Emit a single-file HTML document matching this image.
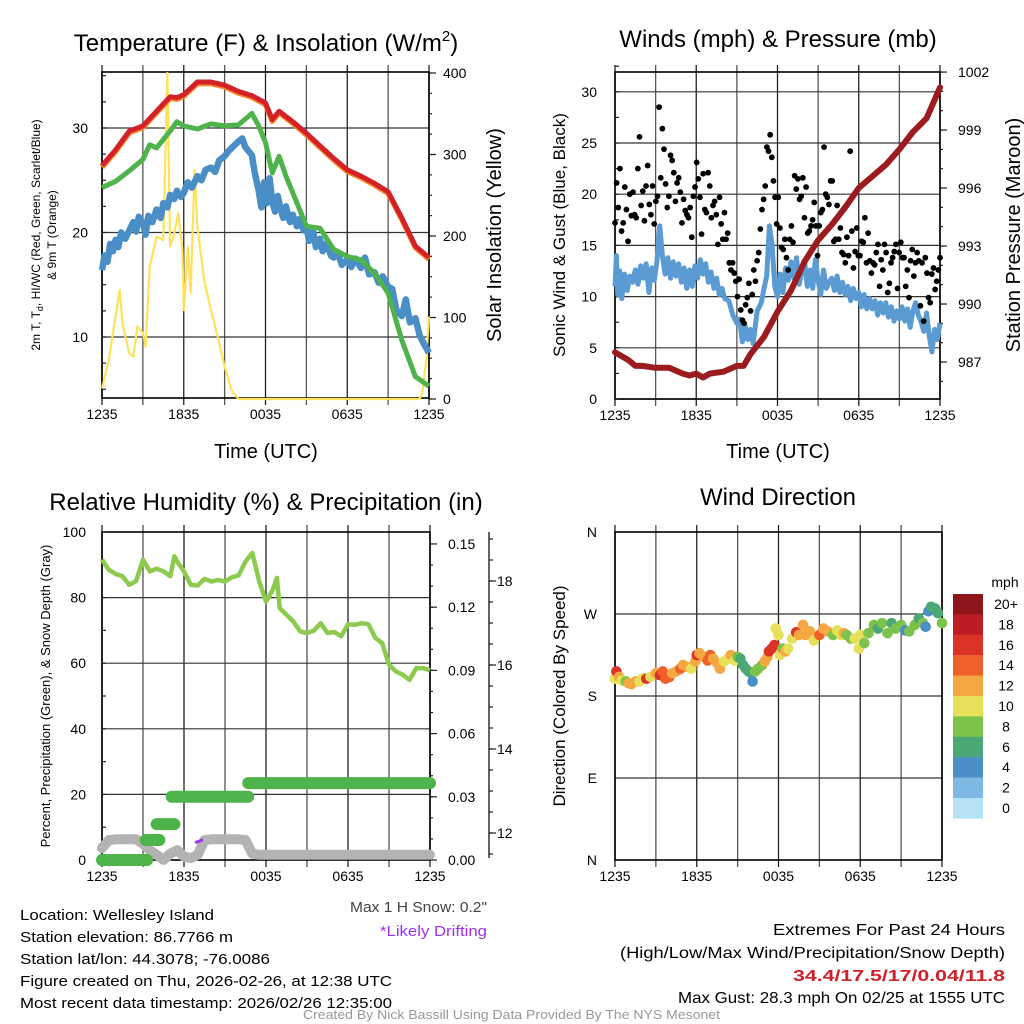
<!DOCTYPE html>
<html><head><meta charset="utf-8"><style>
html,body{margin:0;padding:0;background:#fff;width:1024px;height:1024px;overflow:hidden}
svg{display:block;font-family:"Liberation Sans",sans-serif}
</style></head><body>
<svg id="c" width="1024" height="1024" viewBox="0 0 1024 1024" xmlns="http://www.w3.org/2000/svg">
<rect width="1024" height="1024" fill="#fff"/>
<g id="g1"></g>
<g id="g2"></g>
<g id="g3"></g>
<g id="g4"></g>

<text x="266" y="51" font-size="24" text-anchor="middle">Temperature (F) &amp; Insolation (W/m<tspan font-size="15" dy="-10">2</tspan><tspan dy="10">)</tspan></text>
<text x="778" y="47" font-size="24" text-anchor="middle">Winds (mph) &amp; Pressure (mb)</text>
<text x="266" y="510" font-size="24" text-anchor="middle">Relative Humidity (%) &amp; Precipitation (in)</text>
<text x="778" y="505" font-size="24" text-anchor="middle">Wind Direction</text>

<text x="266" y="458" font-size="20" text-anchor="middle">Time (UTC)</text>
<text x="778" y="458" font-size="20" text-anchor="middle">Time (UTC)</text>

<g font-size="12" text-anchor="middle">
<text transform="translate(40,235) rotate(-90)">2m T, T<tspan font-size="9" dy="3">d</tspan><tspan dy="-3">, HI/WC (Red, Green, Scarlet/Blue)</tspan></text>
<text transform="translate(56,235) rotate(-90)">&amp; 9m T (Orange)</text>
</g>
<text transform="translate(501,235) rotate(-90)" font-size="20" text-anchor="middle">Solar Insolation (Yellow)</text>
<text transform="translate(565,235) rotate(-90)" font-size="17" text-anchor="middle">Sonic Wind &amp; Gust (Blue, Black)</text>
<text transform="translate(1020,235) rotate(-90)" font-size="20" text-anchor="middle">Station Pressure (Maroon)</text>
<text transform="translate(50,696) rotate(-90)" font-size="13" text-anchor="middle">Percent, Precipitation (Green), &amp; Snow Depth (Gray)</text>
<text transform="translate(565,696) rotate(-90)" font-size="17" text-anchor="middle">Direction (Colored By Speed)</text>

<text x="487" y="912" font-size="15" fill="#444" text-anchor="end" textLength="137" lengthAdjust="spacingAndGlyphs">Max 1 H Snow: 0.2"</text>
<text x="487" y="936" font-size="15" fill="#a030ee" text-anchor="end" textLength="107" lengthAdjust="spacingAndGlyphs">*Likely Drifting</text>

<g font-size="15">
<text x="20" y="920" textLength="194" lengthAdjust="spacingAndGlyphs">Location: Wellesley Island</text>
<text x="20" y="942" textLength="213" lengthAdjust="spacingAndGlyphs">Station elevation: 86.7766 m</text>
<text x="20" y="964" textLength="250" lengthAdjust="spacingAndGlyphs">Station lat/lon: 44.3078; -76.0086</text>
<text x="20" y="986" textLength="372" lengthAdjust="spacingAndGlyphs">Figure created on Thu, 2026-02-26, at 12:38 UTC</text>
<text x="20" y="1008" textLength="372" lengthAdjust="spacingAndGlyphs">Most recent data timestamp: 2026/02/26 12:35:00</text>
</g>
<g font-size="16">
<text x="773" y="935" textLength="232" lengthAdjust="spacingAndGlyphs">Extremes For Past 24 Hours</text>
<text x="620" y="958" textLength="385" lengthAdjust="spacingAndGlyphs">(High/Low/Max Wind/Precipitation/Snow Depth)</text>
<text x="793" y="981" fill="#d0202a" font-weight="bold" textLength="212" lengthAdjust="spacingAndGlyphs">34.4/17.5/17/0.04/11.8</text>
<text x="678" y="1003" textLength="327" lengthAdjust="spacingAndGlyphs">Max Gust: 28.3 mph On 02/25 at 1555 UTC</text>
</g>
<text x="303" y="1019" font-size="13" fill="#999" textLength="417" lengthAdjust="spacingAndGlyphs">Created By Nick Bassill Using Data Provided By The NYS Mesonet</text>
</svg>
<script>
// ---------------- DATA ----------------
const xTickLabels = ["1235","1835","0035","0635","1235"];
const tHours = [0,1,2,3,4,5,5.5,6,7,8,9,10,11,12,12.5,13,14,15,16,17,18,19,20,21,22,23,24];
const tRed = [26.4,27.9,29.7,30.2,31.6,33.0,32.9,33.2,34.4,34.4,34.1,33.5,33.1,32.4,30.8,31.6,30.6,29.5,28.3,27.1,26.0,25.4,24.7,23.9,21.4,18.7,17.6];
const gHours = [0,1,2,3,3.5,4,5,5.5,6,7,8,9,10,11,11.5,12,12.5,13,13.5,14,15,16,17,18,19,20,21,22,23,24];
const tGreen = [24.3,24.9,25.9,27.0,28.4,28.1,29.7,30.6,30.2,29.9,30.4,30.2,30.3,31.4,30.2,28.6,25.7,27.3,25.4,23.8,20.6,20.4,18.4,17.7,17.4,16.1,14.2,9.7,6.2,5.3];
const bHours = [0,0.2,0.4,0.6,0.8,1,1.2,1.4,1.7,2,2.3,2.5,2.7,3,3.2,3.4,3.7,4,4.3,4.5,4.8,5,5.3,5.5,5.8,6,6.3,6.6,7,7.3,7.6,8,8.3,8.6,9,9.3,9.6,10,10.3,10.5,10.8,11,11.2,11.5,11.7,11.9,12.1,12.3,12.5,12.7,12.9,13.1,13.3,13.5,13.8,14,14.3,14.5,14.8,15,15.2,15.5,15.7,16,16.2,16.5,16.8,17,17.3,17.6,18,18.3,18.6,19,19.3,19.6,20,20.3,20.6,21,21.3,21.6,22,22.3,22.6,23,23.3,23.6,24];
const tBlue = [16.4,17.8,17.2,18.9,18.2,19.3,18.6,20.0,19.4,20.2,21.0,20.1,21.5,20.9,19.8,21.6,21.0,22.2,21.4,22.8,22.4,23.6,23.2,24.0,23.4,23.8,24.8,24.3,25.4,25.0,26.0,26.2,25.8,26.9,27.3,27.8,28.2,28.7,29.0,28.2,27.7,27.4,25.8,24.0,22.4,24.8,22.8,25.2,23.0,22.0,23.5,22.3,21.4,22.5,21.0,21.7,20.6,21.3,20.2,20.5,19.2,20.1,18.6,19.4,18.2,19.0,17.8,17.6,18.1,16.9,17.4,16.7,17.5,16.6,17.6,16.0,16.2,15.2,15.8,14.8,14.6,12.6,12.0,13.6,11.4,11.8,10.2,9.4,8.5];
const sHours = [0,0.5,1.3,1.5,2,2.3,2.6,3,3.2,3.5,4,4.5,4.8,5,5.3,5.6,5.9,6,6.3,6.5,6.8,7,7.5,8,8.5,9,9.5,10,23.3,23.5,23.8,24];
const solar = [13,48,134,93,56,52,89,81,64,162,199,195,400,187,203,228,183,109,187,130,281,211,146,109,76,40,11,0,0,7,48,101];
const leftTicksT = [10,20,30];
const rightTicksS = [0,100,200,300,400];

const pHours = [0,1,1.5,2,3,4,5,5.5,6,6.5,7,8,9,9.5,10,11,12,13,14,15,16,17,18,19,20,21,22,23,24];
const pressure = [987.5,987.1,986.8,986.8,986.7,986.7,986.4,986.3,986.4,986.2,986.4,986.5,986.8,986.8,987.4,988.3,989.6,990.7,992.2,993.3,994.1,995.0,996.0,996.6,997.2,998.0,998.9,999.6,1001.2];
const wHours = [0,0.1,0.2,0.35,0.5,0.7,0.9,1.1,1.3,1.5,1.7,1.9,2.1,2.3,2.5,2.7,2.9,3.1,3.3,3.5,3.7,3.9,4.1,4.3,4.5,4.7,4.9,5.1,5.3,5.5,5.7,5.9,6.1,6.3,6.5,6.7,6.9,7.1,7.3,7.5,7.7,7.9,8.1,8.4,8.7,9,9.2,9.4,9.6,9.8,10,10.2,10.5,10.8,11,11.2,11.4,11.6,11.8,12,12.2,12.4,12.6,12.8,13,13.2,13.4,13.6,13.8,14,14.2,14.4,14.6,14.8,15,15.2,15.4,15.6,15.8,16,16.2,16.4,16.6,16.8,17,17.2,17.4,17.6,17.8,18,18.2,18.4,18.6,18.8,19,19.2,19.4,19.6,19.8,20,20.2,20.4,20.6,20.8,21,21.2,21.4,21.6,21.8,22,22.2,22.4,22.6,22.8,23,23.2,23.4,23.6,23.8,24];
const wind = [11.0,14.0,10.2,12.5,9.8,12.2,10.6,12.0,11.4,12.6,11.2,13.0,11.8,13.2,10.4,12.8,11.6,13.5,16.9,14.0,12.2,13.8,11.8,13.4,12.0,13.2,11.4,12.8,10.8,12.6,11.0,13.0,11.8,13.6,12.2,13.2,11.4,12.4,10.8,11.8,10.2,10.8,9.8,9.6,8.2,7.4,7.8,5.6,7.2,5.8,6.8,5.4,8.6,9.4,10.8,12.0,16.9,15.0,11.0,10.0,12.2,10.4,12.8,11.6,13.4,11.8,13.8,11.2,12.6,13.4,11.0,12.6,10.8,13.6,11.6,10.2,12.6,10.8,11.4,11.8,10.6,12.0,10.4,11.4,10.2,11.0,9.6,10.8,9.8,10.4,9.0,10.2,8.8,9.8,8.8,9.6,8.2,9.4,8.4,9.4,8.0,9.0,7.6,8.6,7.8,9.0,7.6,8.8,7.0,8.6,9.4,8.2,7.6,6.6,8.4,6.2,4.6,6.8,5.8,7.4,6.0,8.0];
const gust = [17.2,21.1,18.7,22.5,16.4,17.2,20.7,18.5,15.4,20.0,17.9,20.2,18.0,17.7,22.5,25.6,18.9,20.3,17.4,20.8,22.8,19.0,18.0,20.8,17.1,19.3,19.8,28.5,21.6,26.4,24.4,21.0,18.7,19.8,23.8,23.3,22.1,19.3,21.1,21.6,20.2,17.2,19.5,18.4,18.0,17.7,18.7,15.8,19.8,20.7,23.1,21.5,19.7,16.1,22.0,18.5,18.2,22.1,20.8,17.7,18.9,19.3,18.0,15.1,19.7,17.1,15.6,18.2,15.6,16.2,13.3,12.6,13.3,12.3,11.5,10.0,11.7,8.7,7.7,7.4,9.2,9.9,11.3,8.6,10.2,12.6,11.5,13.5,14.3,16.6,18.5,19.5,20.8,24.6,24.2,25.8,23.6,21.3,19.7,17.1,19.7,16.7,14.8,14.6,15.6,13.8,12.6,15.6,16.9,15.3,21.8,20.5,21.5,19.5,19.8,21.6,17.7,20.7,16.2,16.4,16.9,17.5,19.2,16.9,14.0,16.9,18.2,18.5,24.6,20.0,19.7,19.0,21.3,21.3,15.4,15.6,18.9,15.6,16.7,14.3,14.1,13.3,15.8,14.0,24.2,16.4,12.8,14.4,16.7,14.0,14.0,15.4,15.3,17.7,13.3,16.2,13.5,12.3,13.3,13.1,14.3,15.1,11.0,13.6,12.6,15.1,14.3,10.4,11.3,13.3,13.8,14.4,15.1,10.8,14.3,15.3,13.8,13.8,11.0,12.6,9.9,13.5,14.6,12.0,13.3,14.3,13.5,9.1,13.3,7.6,13.8,12.3,9.9,9.4,12.2,12.8,10.7,11.5,12.6,13.8];
const leftTicksW = [0,5,10,15,20,25,30];
const rightTicksP = [987,990,993,996,999,1002];

const rhHours = [0,0.5,1,1.5,2,2.5,3,3.5,4,4.5,5,5.3,5.5,6,6.5,7,7.5,8,8.5,9,9.5,10,10.5,11,11.5,12,12.5,12.8,13,13.5,14,14.5,15,15.5,16,16.5,17,17.5,18,18.5,19,19.5,20,20.5,21,21.5,22,22.5,23,23.5,24];
const rh = [91.6,88.5,87.2,86.5,83.9,85.1,91.6,88.0,88.8,88.0,86.5,92.6,91.0,88.0,83.9,83.7,85.7,84.9,85.4,84.9,86.2,86.8,91.0,93.6,84.9,78.8,82.4,86.0,76.8,74.8,72.7,69.7,69.2,69.9,72.2,69.2,69.5,68.2,71.9,71.7,72.2,71.9,67.7,66.1,59.5,57.5,56.5,54.9,58.5,58.5,57.8];
const precipStart = [0,3.2,4.0,5.1,10.7];
const precipEnd = [3.3,4.2,5.3,10.7,24];
const precipVal = [0.000,0.0095,0.017,0.030,0.0365];
const snowHours = [0,0.5,1,2.5,3,3.5,4,4.5,5,5.5,6,6.5,7,7.5,8,10,10.5,11,11.5,24];
const snow = [11.64,11.83,11.85,11.85,11.74,11.59,11.48,11.36,11.51,11.59,11.44,11.40,11.48,11.83,11.85,11.85,11.83,11.51,11.48,11.48];
const leftTicksRH = [0,20,40,60,80,100];
const rightTicksPr = [0,0.03,0.06,0.09,0.12,0.15];
const snowTicks = [12,14,16,18];

const dHours = [0,0.1,0.3,0.5,0.8,1,1.2,1.5,1.8,2,2.3,2.6,3,3.3,3.5,3.7,4,4.2,4.5,4.8,5,5.3,5.6,5.9,6,6.2,6.5,6.8,7,7.2,7.5,7.7,8,8.3,8.5,8.8,9,9.2,9.4,9.6,9.8,10,10.1,10.3,10.5,10.8,11,11.2,11.3,11.5,11.7,11.8,12,12.1,12.3,12.5,12.7,13,13.3,13.5,13.8,14,14.3,14.6,15,15.3,15.6,16,16.3,16.6,16.8,17,17.3,17.6,17.9,18,18.3,18.6,19,19.3,19.6,20,20.3,20.6,21,21.3,21.6,22,22.3,22.6,22.8,23,23.2,23.5,23.7,24];
const dirDeg = [199,207,201,197,196,194,193,196,196,199,199,201,205,203,207,199,201,205,207,210,214,212,210,218,225,227,223,219,225,221,216,210,218,221,225,219,223,221,214,210,207,205,196,207,210,214,218,223,229,232,236,254,247,225,232,229,232,243,250,247,258,247,251,241,247,254,251,247,252,247,249,247,243,243,232,247,238,249,258,254,260,249,260,254,258,252,251,258,265,260,256,273,278,276,271,260];
const dirSpeed = [10,15,12,10,8,12,12,12,10,10,15,10,12,16,14,14,14,12,12,14,12,12,10,12,16,12,12,14,14,12,12,12,10,10,12,10,8,6,6,5,6,5,4,8,8,8,12,12,16,16,16,10,10,10,8,12,10,10,16,12,12,12,12,10,14,12,12,8,10,10,12,8,8,10,10,10,8,8,8,6,8,8,6,8,8,4,8,8,6,8,4,4,6,6,6,8];
const cbLabels = ["20+","18","16","14","12","10","8","6","4","2","0"];
const cbColors = ["#8e1519","#bc1d24","#dc3327","#ef6129","#f5a742","#e6e05a","#7dc24b","#4aa874","#4a8ec7","#7db9e3","#b5e2f7"];

// ---------------- DRAW ----------------
const NS="http://www.w3.org/2000/svg";
function mk(parent,tag,attrs,txt){const e=document.createElementNS(NS,tag);for(const k in attrs)e.setAttribute(k,attrs[k]);if(txt!==undefined)e.textContent=txt;parent.appendChild(e);return e;}
function pathOf(xs,ys,fx,fy){return xs.map((h,i)=>(i?"L":"M")+fx(h).toFixed(1)+","+fy(ys[i]).toFixed(1)).join("");}

function frame(g,L,R,T,B,hY){
  const fx=h=>L+h*(R-L)/24;
  for(let k=0;k<=8;k++){const x=fx(k*3);
    const l=mk(g,"line",{x1:x,y1:T-7,x2:x,y2:B+7,stroke:k%2?"#555":"#222","stroke-width":1.3});
    
    }
  hY.forEach(y=>{const l=mk(g,"line",{x1:L,y1:y,x2:R,y2:y,stroke:"#333","stroke-width":1.2});
    
    });
  const r=mk(g,"rect",{x:L,y:T,width:R-L,height:B-T,fill:"none",stroke:"#000","stroke-width":1.6});
  
  
  xTickLabels.forEach((s,i)=>{const t=mk(g,"text",{x:fx(i*6),y:B+21,"font-size":14,"text-anchor":"middle"},s);
    
    });
  return fx;
}
function tickLabel(g,x,y,s,anchor,name){const t=mk(g,"text",{x:x,y:y+5,"font-size":14,"text-anchor":anchor},s);
  
  }
function tick(g,x1,y,x2){mk(g,"line",{x1:x1,y1:y,x2:x2,y2:y,stroke:"#222","stroke-width":1.2});}

(function(){
  const g=document.getElementById("g1");
  const L=102,R=429,T=72,B=398;
  const yT=v=>337-(v-10)*10.45, yS=s=>399-s*0.815;
  const fx=frame(g,L,R,T,B,leftTicksT.map(yT));
  leftTicksT.forEach(v=>tickLabel(g,88,yT(v),String(v),"end","temp-y-tick-label"));
  for(let v=5;v<=35;v+=2.5) tick(g,L,yT(v),L+4);
  rightTicksS.forEach(s=>{tickLabel(g,443,yS(s),String(s),"start","solar-y-tick-label");tick(g,R,yS(s),R+7);});
  for(let s=0;s<=400;s+=25) tick(g,R,yS(s),R+3);
  let p=mk(g,"path",{d:pathOf(sHours,solar,fx,yS),fill:"none",stroke:"#fde25a","stroke-width":2.2,"stroke-linejoin":"round"});
  
  
  p=mk(g,"path",{d:pathOf(bHours,tBlue,fx,yT),fill:"none",stroke:"#4a8ec7","stroke-width":6.5,"stroke-linejoin":"round"});
  
  
  p=mk(g,"path",{d:pathOf(gHours,tGreen,fx,yT),fill:"none",stroke:"#4db34a","stroke-width":5,"stroke-linejoin":"round"});
  
  
  p=mk(g,"path",{d:pathOf(tHours,tRed.map(v=>v-0.15),fx,yT),fill:"none",stroke:"#f58a2a","stroke-width":5.5,"stroke-linejoin":"round"});
  
  
  p=mk(g,"path",{d:pathOf(tHours,tRed,fx,yT),fill:"none",stroke:"#d42027","stroke-width":5,"stroke-linejoin":"round"});
  
  
})();

(function(){
  const g=document.getElementById("g2");
  const L=615,R=940,T=72,B=399;
  const yW=v=>399-v*10.24, yP=p=>362-(p-987)*19.33;
  const fx=frame(g,L,R,T,B,leftTicksW.map(yW));
  leftTicksW.forEach(v=>{tickLabel(g,597,yW(v),String(v),"end","wind-y-tick-label");});
  for(let v=0;v<=32.5;v+=2.5) tick(g,L,yW(v),L+4);
  rightTicksP.forEach(p=>{tickLabel(g,958,yP(p),String(p),"start","pressure-y-tick-label");tick(g,R,yP(p),R+7);});
  for(let p=986;p<=1002;p+=1) tick(g,R,yP(p),R+3);
  let p=mk(g,"path",{d:pathOf(wHours,wind,fx,yW),fill:"none",stroke:"#5b9bd3","stroke-width":5,"stroke-linejoin":"round"});
  
  
  gust.forEach((v,i)=>{const c=mk(g,"circle",{cx:fx(i*24/(gust.length-1)),cy:yW(v),r:2.9,fill:"#000"});
    
    });
  p=mk(g,"path",{d:pathOf(pHours,pressure,fx,yP),fill:"none",stroke:"#9b1b1e","stroke-width":6,"stroke-linejoin":"round","stroke-linecap":"round"});
  
  
})();

(function(){
  const g=document.getElementById("g3");
  const L=102,R=430,T=532,B=860;
  const yRH=v=>860-v*3.28, yPr=v=>860-v*2107, ySn=s=>833-(s-12)*42;
  const fx=frame(g,L,R,T,B,[20,40,60,80].map(yRH));
  leftTicksRH.forEach(v=>tickLabel(g,86,yRH(v),String(v),"end","rh-y-tick-label"));
  for(let v=0;v<=100;v+=10) tick(g,L,yRH(v),L+4);
  rightTicksPr.forEach(v=>{tickLabel(g,448,yPr(v),v.toFixed(2),"start","precip-y-tick-label");tick(g,R,yPr(v),R+7);});
  for(let v=0;v<=0.155;v+=0.01) tick(g,R,yPr(v),R+3);
  mk(g,"line",{x1:489,y1:532,x2:489,y2:858,stroke:"#222","stroke-width":1.4});
  snowTicks.forEach(s=>{tickLabel(g,497,ySn(s),String(s),"start","snow-y-tick-label");tick(g,489,ySn(s),496);});
  for(let s=11.5;s<=19.0;s+=0.5) tick(g,489,ySn(s),493);
  let p=mk(g,"path",{d:pathOf(snowHours,snow,fx,ySn),fill:"none",stroke:"#b3b3b3","stroke-width":10,"stroke-linejoin":"round","stroke-linecap":"round"});
  
  
  p=mk(g,"path",{d:"M"+fx(6.9)+","+ySn(11.78)+"L"+fx(7.3)+","+ySn(11.83),fill:"none",stroke:"#a030ee","stroke-width":3,"stroke-linecap":"round"});
  
  
  precipVal.forEach((v,i)=>{const l=mk(g,"line",{x1:fx(precipStart[i]),y1:yPr(v),x2:fx(precipEnd[i]),y2:yPr(v),stroke:"#4db34a","stroke-width":12,"stroke-linecap":"round"});
    
    });
  p=mk(g,"path",{d:pathOf(rhHours,rh,fx,yRH),fill:"none",stroke:"#8ccb4e","stroke-width":4.5,"stroke-linejoin":"round"});
  
  
})();

(function(){
  const g=document.getElementById("g4");
  const L=615,R=942,T=532,B=860;
  const yD=d=>860-d*0.911;
  const fx=frame(g,L,R,T,B,[90,180,270].map(yD));
  ["N","E","S","W","N"].forEach((s,i)=>tickLabel(g,597,yD(i*90),s,"end","direction-y-tick-label"));
  const col=s=>cbColors[10-Math.min(10,Math.round(s/2))];
  dHours.forEach((h,i)=>{const c=mk(g,"circle",{cx:fx(h),cy:yD(dirDeg[i]),r:5.3,fill:col(dirSpeed[i])});
    
    });
  const t=mk(g,"text",{x:1005,y:587,"font-size":14,"text-anchor":"middle"},"mph");
  
  
  cbColors.forEach((c,i)=>{const r=mk(g,"rect",{x:953,y:594+i*20.4,width:30,height:20.6,fill:c});
    
    
    const l=mk(g,"text",{x:1006,y:609+i*20.4,"font-size":14,"text-anchor":"middle"},cbLabels[i]);
    
    });
})();
</script>
</body></html>
